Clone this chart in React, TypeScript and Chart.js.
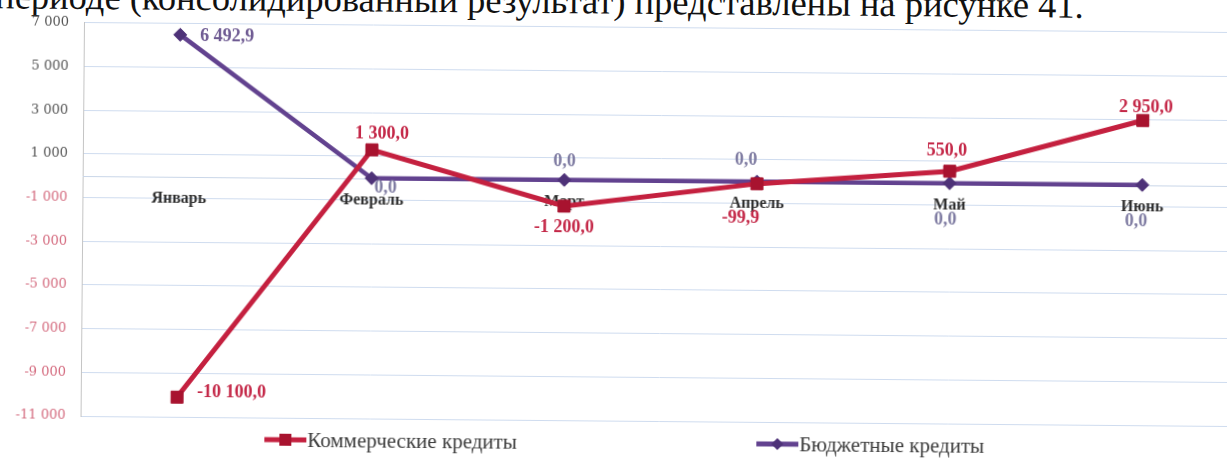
import React, { useEffect, useRef } from "react";
import { Chart, registerables } from "chart.js";

Chart.register(...registerables);

// ---- data ----
const categories = ["Январь", "Февраль", "Март", "Апрель", "Май", "Июнь"];
const commercialName = "Коммерческие кредиты";
const budgetName = "Бюджетные кредиты";
const commercialValues = [-10100, 1300, -1200, -99.9, 550, 2950];
const budgetValues = [6492.9, 0, 0, 0, 0, 0];
const yMin = -11000;
const yMax = 7000;
const yStep = 2000;
const headingText = "периоде (консолидированный результат) представлены на рисунке 41.";

// ---- label placement (style) ----
const commercialLabelPlaces = [
  { dx: 20, dy: -5, align: "left" },
  { dx: 10, dy: -16, align: "center" },
  { dx: 0, dy: 21, align: "center" },
  { dx: -16, dy: 34, align: "center" },
  { dx: -3, dy: -20, align: "center" },
  { dx: 3, dy: -13, align: "center" },
];
const budgetLabelPlaces = [
  { dx: 20, dy: 1, align: "left" },
  { dx: 14, dy: 10, align: "center" },
  { dx: 0, dy: -18, align: "center" },
  { dx: -11, dy: -21, align: "center" },
  { dx: -4, dy: 37, align: "center" },
  { dx: -6, dy: 37, align: "center" },
];

const RED = "#c4203f";
const RED_MARK = "#a8132f";
const PURPLE = "#62428f";
const PURPLE_MARK = "#4e3278";

function fmtNum(v: number, dec: number): string {
  const s = Math.abs(v).toFixed(dec).split(".");
  const int = s[0].replace(/\B(?=(\d{3})+(?!\d))/g, " ");
  return (v < 0 ? "-" : "") + int + (dec > 0 ? "," + s[1] : "");
}

const customPlugin = {
  id: "customDecor",
  beforeDatasetsDraw(chart: any) {
    const { ctx, chartArea, scales } = chart;
    const y0 = scales.y.getPixelForValue(0);
    ctx.save();
    ctx.strokeStyle = "#c9d6e8";
    ctx.lineWidth = 1;
    ctx.beginPath();
    ctx.moveTo(chartArea.left, Math.round(y0) + 0.5);
    ctx.lineTo(chartArea.right, Math.round(y0) + 0.5);
    ctx.stroke();
    // category labels next to the zero axis
    ctx.font = "bold 16px 'Liberation Serif', serif";
    ctx.fillStyle = "#2e2e2e";
    ctx.textAlign = "center";
    ctx.textBaseline = "middle";
    categories.forEach((c, i) => {
      const x = scales.x.getPixelForValue(i);
      ctx.fillText(c, x, y0 + 22);
    });
    ctx.restore();
  },
  afterDatasetsDraw(chart: any) {
    const { ctx } = chart;
    const places = [commercialLabelPlaces, budgetLabelPlaces];
    chart.data.datasets.forEach((ds: any, di: number) => {
      const meta = chart.getDatasetMeta(di);
      meta.data.forEach((pt: any, i: number) => {
        const p = places[di][i];
        const v = ds.data[i];
        ctx.save();
        ctx.font = "bold 18px 'Liberation Serif', serif";
        if (di === 0) ctx.fillStyle = "#c42848";
        else ctx.fillStyle = v === 0 ? "#7f7ca2" : "#6e5a92";
        ctx.textAlign = p.align;
        ctx.textBaseline = "middle";
        ctx.fillText(fmtNum(v, 1), pt.x + p.dx, pt.y + p.dy);
        ctx.restore();
      });
    });
  },
  afterDraw(chart: any) {
    const { ctx } = chart;
    const items = [
      { x: 268, name: commercialName, color: RED, mark: RED_MARK, shape: "rect" },
      { x: 760, name: budgetName, color: PURPLE, mark: PURPLE_MARK, shape: "diamond" },
    ];
    const y = 438;
    items.forEach((it) => {
      ctx.save();
      ctx.strokeStyle = it.color;
      ctx.lineWidth = 5;
      ctx.beginPath();
      ctx.moveTo(it.x, y);
      ctx.lineTo(it.x + 42, y);
      ctx.stroke();
      ctx.fillStyle = it.mark;
      const cx = it.x + 21;
      ctx.beginPath();
      if (it.shape === "rect") {
        ctx.rect(cx - 6, y - 6, 12, 12);
      } else {
        ctx.moveTo(cx - 6, y);
        ctx.lineTo(cx, y - 6);
        ctx.lineTo(cx + 6, y);
        ctx.lineTo(cx, y + 6);
        ctx.closePath();
      }
      ctx.fill();
      ctx.font = "21px 'Liberation Serif', serif";
      ctx.fillStyle = "#3a3a3a";
      ctx.textAlign = "left";
      ctx.textBaseline = "middle";
      ctx.fillText(it.name, it.x + 43, y + 1);
      ctx.restore();
    });
  },
};

export default function App() {
  const canvasRef = useRef<HTMLCanvasElement | null>(null);

  useEffect(() => {
    if (!canvasRef.current) return;
    const chart = new Chart(canvasRef.current, {
      type: "line",
      data: {
        labels: categories,
        datasets: [
          {
            label: commercialName,
            data: commercialValues,
            borderColor: RED,
            backgroundColor: RED_MARK,
            borderWidth: 5,
            pointStyle: "rect",
            pointRadius: 8.5,
            pointBackgroundColor: RED_MARK,
            pointBorderColor: RED_MARK,
            pointBorderWidth: 1,
            tension: 0,
            fill: false,
          },
          {
            label: budgetName,
            data: budgetValues,
            borderColor: PURPLE,
            backgroundColor: PURPLE_MARK,
            borderWidth: 4.5,
            pointStyle: "rectRot",
            pointRadius: 6.5,
            pointBackgroundColor: PURPLE_MARK,
            pointBorderColor: PURPLE_MARK,
            pointBorderWidth: 1,
            tension: 0,
            fill: false,
          },
        ],
      },
      options: {
        animation: false,
        responsive: false,
        maintainAspectRatio: false,
        layout: { padding: { top: 21, bottom: 42, left: 0, right: 10 } },
        plugins: {
          legend: { display: false },
          tooltip: { enabled: false },
        },
        scales: {
          x: {
            type: "category",
            offset: true,
            display: false,
          },
          y: {
            min: yMin,
            max: yMax,
            afterFit: (scale: any) => {
              scale.width = 84;
            },
            ticks: {
              stepSize: yStep,
              padding: 15,
              font: { family: "'DejaVu Serif', serif", size: 13 },
              color: (c: any) => (c.tick && c.tick.value < 0 ? "#d46a7e" : "#555555"),
              callback: (v: any) => fmtNum(Number(v), 0),
            },
            grid: {
              color: "#cfdcef",
              lineWidth: 1,
              drawTicks: false,
            },
            border: { display: true, color: "#c4c4c4", width: 1 },
          },
        },
      },
      plugins: [customPlugin],
    } as any);
    return () => chart.destroy();
  }, []);

  return (
    <div
      style={{
        position: "fixed",
        left: 0,
        top: 0,
        width: 1227,
        height: 458,
        overflow: "hidden",
        background: "#ffffff",
      }}
    >
      <div
        style={{
          position: "absolute",
          left: 0,
          top: 0,
          width: 1250,
          height: 458,
          transform: "rotate(0.5deg)",
          transformOrigin: "84px 21px",
        }}
      >
        <div
          style={{
            position: "absolute",
            left: -5,
            top: -21,
            whiteSpace: "nowrap",
            fontFamily: "'Liberation Serif', serif",
            fontSize: 36.5,
            lineHeight: "36.5px",
            color: "#111",
          }}
        >
          {headingText}
        </div>
        <canvas
          ref={canvasRef}
          width={1250}
          height={458}
          style={{ position: "absolute", left: 0, top: 0, display: "block" }}
        />
      </div>
    </div>
  );
}
